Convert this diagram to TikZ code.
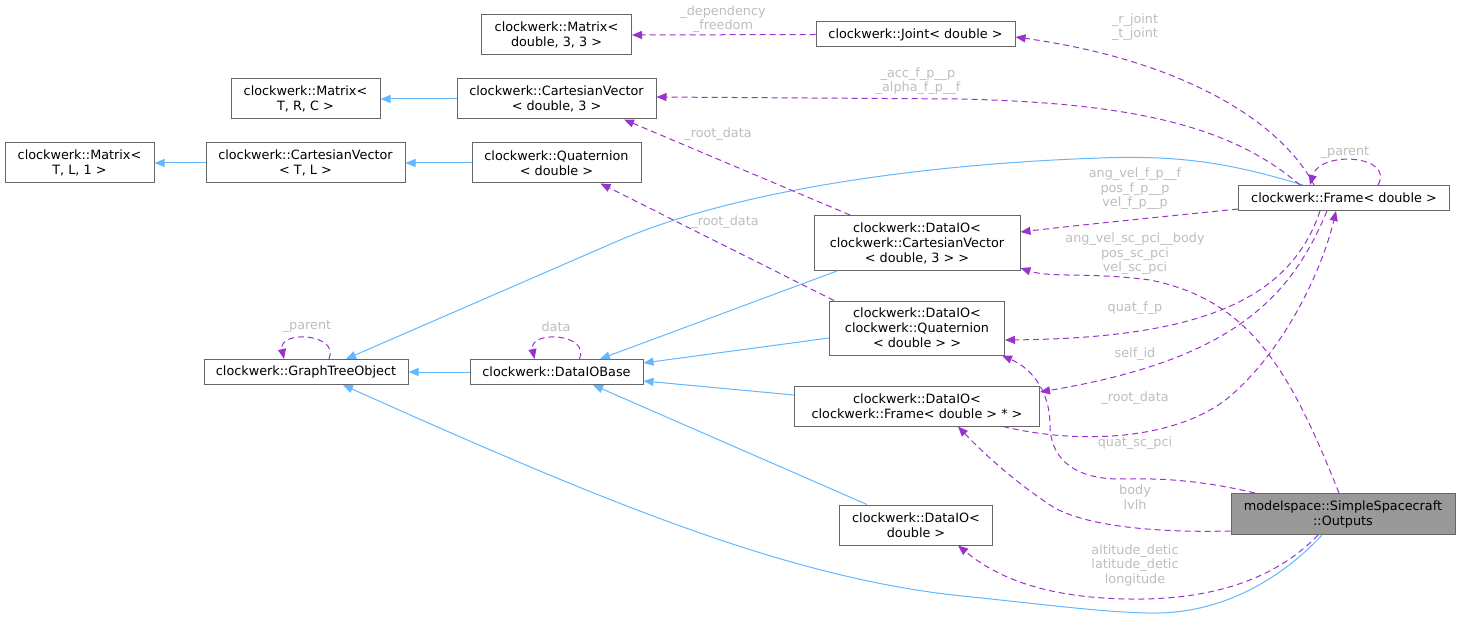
\documentclass[tikz,border=0pt]{standalone}
\usepackage{fontspec}
\setmainfont{DejaVu Sans}
\usetikzlibrary{arrows.meta,calc}
\definecolor{edgeblue}{HTML}{63B8FF}
\definecolor{edgepurple}{HTML}{9A32CD}
\definecolor{boxborder}{HTML}{666666}
\definecolor{labelgray}{HTML}{BEBEBE}
\definecolor{outfill}{HTML}{999999}
\begin{document}
\begin{tikzpicture}[x=1pt,y=-1pt,
 box/.style={draw=boxborder, fill=white, line width=1pt, inner sep=0pt, align=center, font=\fontsize{12.8}{15}\selectfont},
 inh/.style={draw=edgeblue, line width=1pt, -{Triangle[length=10pt,width=8pt]}},
 usage/.style={draw=edgepurple, line width=1pt, dash pattern=on 6pt off 4pt, -{Triangle[length=10pt,width=8pt]}},
 elabel/.style={text=labelgray, align=center, font=\fontsize{12.8}{14.5}\selectfont, inner sep=0pt}]
\useasboundingbox (0,0) rectangle (1461,620);
\fill[white] (0,0) rectangle (1461,620);

% nodes
\node[box, minimum width=149pt, minimum height=40pt] (mtl1) at (79.5,163) {clockwerk::Matrix<\\T, L, 1 >};
\node[box, minimum width=199pt, minimum height=40pt] (cvtl) at (305.5,163) {clockwerk::CartesianVector\\< T, L >};
\node[box, minimum width=149pt, minimum height=40pt] (mtrc) at (305.5,99) {clockwerk::Matrix<\\T, R, C >};
\node[box, minimum width=150pt, minimum height=40pt] (m33) at (556.5,35) {clockwerk::Matrix<\\double, 3, 3 >};
\node[box, minimum width=199pt, minimum height=25pt] (joint) at (915.5,34.5) {clockwerk::Joint< double >};
\node[box, minimum width=199pt, minimum height=40pt] (cv3) at (556.5,99) {clockwerk::CartesianVector\\< double, 3 >};
\node[box, minimum width=169pt, minimum height=40pt] (quat) at (556.5,163) {clockwerk::Quaternion\\< double >};
\node[box, minimum width=211pt, minimum height=25pt] (frame) at (1344,198) {clockwerk::Frame< double >};
\node[box, minimum width=206pt, minimum height=55pt] (diocv) at (917,243) {clockwerk::DataIO<\\clockwerk::CartesianVector\\< double, 3 > >};
\node[box, minimum width=204pt, minimum height=25pt] (gto) at (306,372) {clockwerk::GraphTreeObject};
\node[box, minimum width=173pt, minimum height=25pt] (dbase) at (556.5,372) {clockwerk::DataIOBase};
\node[box, minimum width=175pt, minimum height=54pt] (dioq) at (917,328) {clockwerk::DataIO<\\clockwerk::Quaternion\\< double > >};
\node[box, minimum width=245pt, minimum height=40pt] (diof) at (917,406) {clockwerk::DataIO<\\clockwerk::Frame< double > * >};
\node[box, minimum width=153pt, minimum height=40pt] (diod) at (916,525) {clockwerk::DataIO<\\double >};
\node[box, fill=outfill, minimum width=224pt, minimum height=41pt] (outp) at (1343,514) {modelspace::SimpleSpacecraft\\::Outputs};

% inheritance
\draw[inh] (cvtl.west) -- (mtl1.east);
\draw[inh] (quat.west) -- (cvtl.east);
\draw[inh] (cv3.west) -- (mtrc.east);
\draw[inh] (dbase.west) -- (gto.east);
\draw[inh] ([xshift=-80pt]diocv.south) -- ([xshift=43.5pt]dbase.north);
\draw[inh] ([yshift=-10pt]dioq.west) -- ([yshift=9pt]dbase.east);
\draw[inh] ([yshift=11pt]diof.west) -- ([yshift=-9pt]dbase.east);
\draw[inh] ([xshift=-49pt]diod.north) -- ([xshift=36.5pt]dbase.south);
\draw[inh] ([xshift=-41pt]frame.north) .. controls (1230,163) and (1180,155) .. (1100,158) .. controls (950,163) and (750,185) .. (620,240) -- ([xshift=40pt]gto.north);
\draw[inh] ([xshift=-21pt]outp.south) .. controls (1280,580) and (1220,615) .. (1148,613) .. controls (1100,612) and (1050,605) .. (953,595) .. controls (780,575) and (600,500) .. ([xshift=37pt]gto.south);

% usage
\draw[usage] (joint.west) -- (m33.east);
\draw[usage] ([xshift=-30pt]frame.north) .. controls (1280,120) and (1180,60) .. ([yshift=-2.5pt]joint.east);
\draw[usage] ([xshift=-44pt]frame.north) .. controls (1230,125) and (1130,103) .. (960,99) -- ([yshift=2pt]cv3.east);
\draw[usage] ([xshift=34pt]frame.north) .. controls (1395,155) and (1320,150) .. ([xshift=-34pt]frame.north);
\draw[usage] ([xshift=-67pt]diocv.north) -- ([xshift=67.5pt]cv3.south);
\draw[usage] ([xshift=5pt]dioq.north west) -- ([xshift=44pt]quat.south);
\draw[usage] ([yshift=2pt]frame.south west) .. controls (1150,218) and (1080,225) .. ([yshift=11pt]diocv.east);
\draw[usage] ([xshift=-4pt]outp.north) .. controls (1290,370) and (1250,300) .. (1150,280) .. controls (1090,272) and (1050,278) .. ([yshift=-25pt]diocv.east);
\draw[usage] ([xshift=-24pt]frame.south) .. controls (1290,300) and (1200,338) .. ([yshift=-12pt]dioq.east);
\draw[usage] ([xshift=-17pt]frame.south) .. controls (1290,300) and (1230,360) .. ([yshift=14pt]diof.east);
\draw[usage] ([xshift=86pt]diof.south) .. controls (1080,445) and (1175,440) .. (1228,398) .. controls (1285,350) and (1322,270) .. ([xshift=-8pt]frame.south);
\draw[usage] ([xshift=-88pt]outp.north) .. controls (1200,480) and (1160,478) .. (1120,479) .. controls (1070,479) and (1050,455) .. (1050,425) .. controls (1050,395) and (1035,370) .. ([xshift=-3pt]dioq.south east);
\draw[usage] ([yshift=-17pt]outp.west) .. controls (1150,533) and (1080,525) .. (1050,505) .. controls (1020,485) and (990,460) .. ([xshift=41pt]diof.south);
\draw[usage] ([xshift=-25pt]outp.south) .. controls (1270,585) and (1200,600) .. (1130,599) .. controls (1050,598) and (1000,580) .. ([xshift=42pt]diod.south);
\draw[usage] ([xshift=23pt]gto.north) .. controls (340,333) and (278,330) .. ([xshift=-22pt]gto.north);
\draw[usage] ([xshift=23pt]dbase.north) .. controls (590.5,333) and (528.5,330) .. ([xshift=-22pt]dbase.north);

% labels
\node[elabel] (l1) at (723,19) {\_dependency\\\_freedom};
\node[elabel] (l2) at (1135,27) {\_r\_joint\\\_t\_joint};
\node[elabel] (l3) at (918,81) {\_acc\_f\_p\_\_p\\\_alpha\_f\_p\_\_f};
\node[elabel] (l4) at (1345,153) {\_parent};
\node[elabel] (l5) at (718,134) {\_root\_data};
\node[elabel] (l6) at (725,222) {\_root\_data};
\node[elabel] (l7) at (1135,189) {ang\_vel\_f\_p\_\_f\\pos\_f\_p\_\_p\\vel\_f\_p\_\_p};
\node[elabel] (l8) at (1135,254) {ang\_vel\_sc\_pci\_\_body\\pos\_sc\_pci\\vel\_sc\_pci};
\node[elabel] (l9) at (1135,308) {quat\_f\_p};
\node[elabel] (l10) at (1135,354) {self\_id};
\node[elabel] (l11) at (1135,398) {\_root\_data};
\node[elabel] (l12) at (1135,443) {quat\_sc\_pci};
\node[elabel] (l13) at (1135,497) {body\\lvlh};
\node[elabel] (l14) at (1135,565) {altitude\_detic\\latitude\_detic\\longitude};
\node[elabel] (l15) at (307,327) {\_parent};
\node[elabel] (l16) at (556,327) {data};
\end{tikzpicture}
\end{document}
